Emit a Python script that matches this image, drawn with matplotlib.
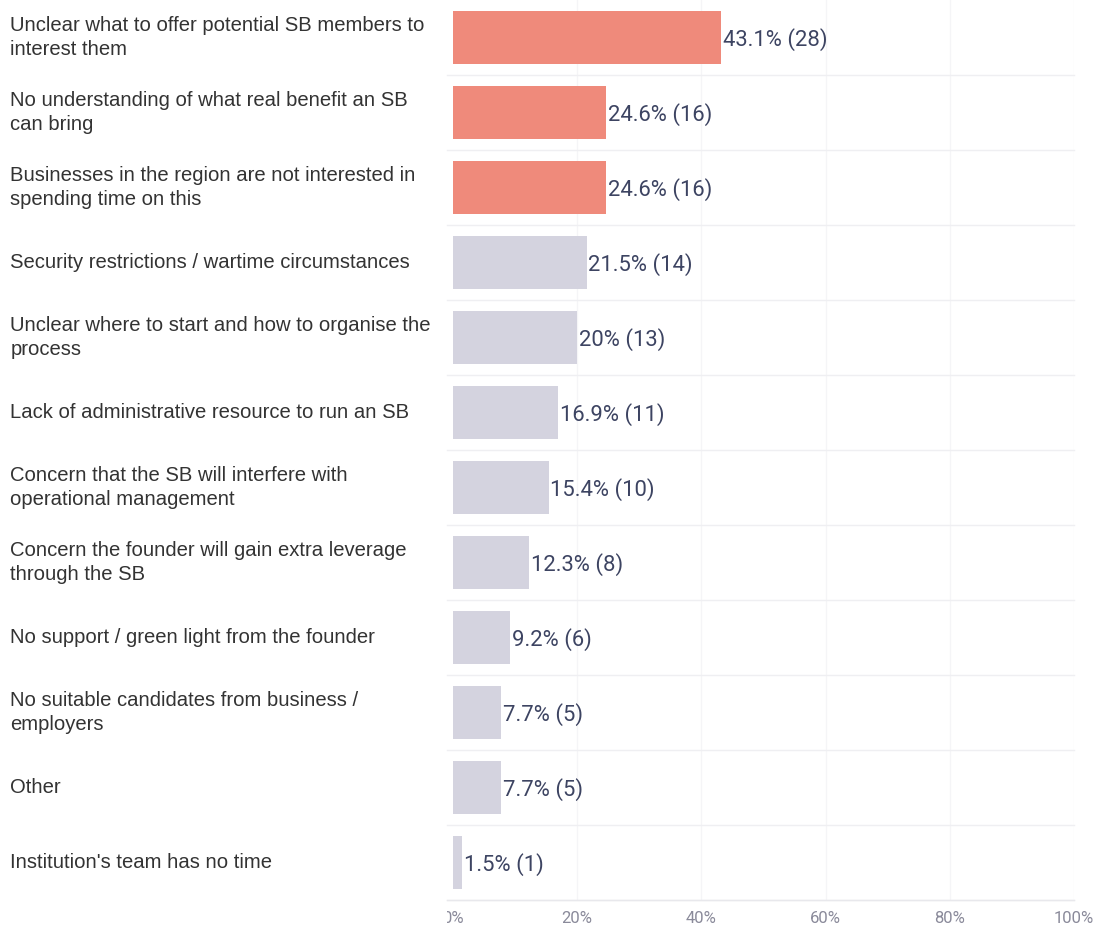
import matplotlib.pyplot as plt
from matplotlib.transforms import Bbox, TransformedBbox

# Survey data: share of respondents and counts per reason
categories = [
    "Unclear what to offer potential SB members to\ninterest them",
    "No understanding of what real benefit an SB\ncan bring",
    "Businesses in the region are not interested in\nspending time on this",
    "Security restrictions / wartime circumstances",
    "Unclear where to start and how to organise the\nprocess",
    "Lack of administrative resource to run an SB",
    "Concern that the SB will interfere with\noperational management",
    "Concern the founder will gain extra leverage\nthrough the SB",
    "No support / green light from the founder",
    "No suitable candidates from business /\nemployers",
    "Other",
    "Institution's team has no time",
]
percents = [43.1, 24.6, 24.6, 21.5, 20, 16.9, 15.4, 12.3, 9.2, 7.7, 7.7, 1.5]
counts = [28, 16, 16, 14, 13, 11, 10, 8, 6, 5, 5, 1]
highlight_top = 3

RED = "#EF8A7B"
GREY = "#D4D3DF"
VALUE_COLOR = "#3D4462"

fig = plt.figure(figsize=(10.96, 9.25), dpi=100)
ax = fig.add_axes([453 / 1096, 1 - 900 / 925, (1074 - 453) / 1096, 900 / 925])

n = len(categories)
ys = list(range(n))
colors = [RED if i < highlight_top else GREY for i in range(n)]
ax.barh(ys, percents, height=0.71, color=colors, zorder=2)

for y, p, c in zip(ys, percents, counts):
    ax.text(p + 0.3, y + 0.03, f"{p:g}% ({c})", va="center", ha="left",
            fontsize=15.8, color=VALUE_COLOR, family="Roboto", zorder=3)

ax.set_ylim(n - 0.5, -0.5)
ax.set_xlim(0, 100)

# row separators and vertical grid
for k in range(n):
    ax.plot([-1, 100], [k + 0.5, k + 0.5], color="#EFEFF2", lw=1,
            clip_on=False, zorder=1)
for xv in [20, 40, 60, 80, 100]:
    ax.axvline(xv, color="#F5F5F7", lw=1, zorder=0)

for s in ax.spines.values():
    s.set_visible(False)
ax.plot([-1, 100], [n - 0.5, n - 0.5], color="#E8E8EC", lw=1,
        clip_on=False, zorder=1)

ax.set_yticks([])
ax.set_xticks([0, 20, 40, 60, 80, 100])
ax.set_xticklabels(["0%", "20%", "40%", "60%", "80%", "100%"])
ax.tick_params(axis="x", length=0, pad=8, labelsize=12, labelcolor="#8A8A9A")
for lab in ax.get_xticklabels():
    lab.set_family("Roboto")

# the first tick label is cut at the left edge of the plot area
clip = TransformedBbox(Bbox([[447 / 1096, 0], [1, 1]]), fig.transFigure)
first = ax.get_xticklabels()[0]
first.set_clip_box(clip)
first.set_clip_on(True)

# category labels on the left
for y, cat in zip(ys, categories):
    ax.text(-0.713, y, cat, transform=ax.get_yaxis_transform(),
            ha="left", va="center", fontsize=14.6, color="#333333",
            family="Liberation Sans", linespacing=1.36)

fig.savefig("out.png", dpi=100)
